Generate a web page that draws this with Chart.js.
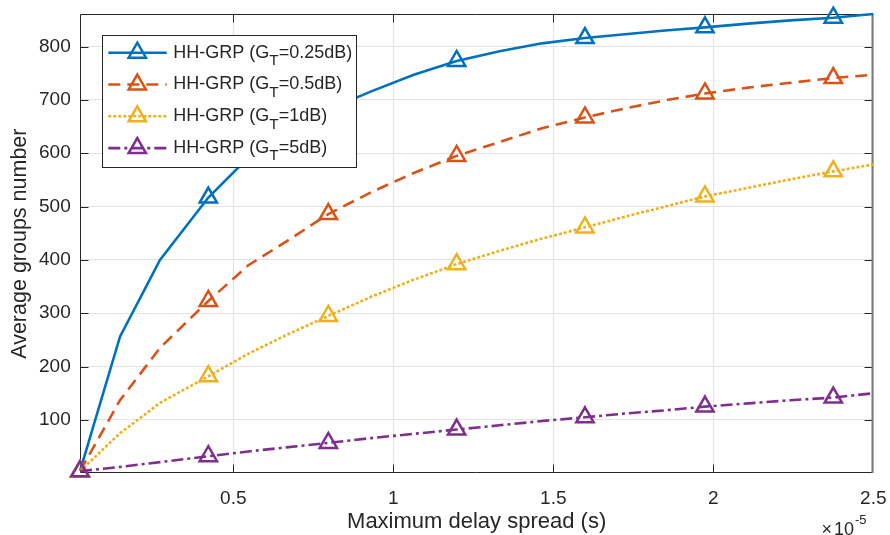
<!DOCTYPE html>
<html>
<head>
<meta charset="utf-8">
<script src="https://cdn.jsdelivr.net/npm/chart.js@4.4.1/dist/chart.umd.min.js"></script>
<style>
html, body { margin: 0; padding: 0; background: #fff; }
#wrap { width: 890px; height: 535px; }
</style>
</head>
<body>
<div id="wrap"><canvas id="chart" width="890" height="535"></canvas></div>
<script>
// --- Daten (x-Werte in Einheiten von 1e-5 s) ---
const delaySpread = [0.021, 0.146, 0.271, 0.422, 0.547, 0.672, 0.797, 0.931, 1.064, 1.198,
                     1.332, 1.465, 1.599, 1.724, 1.849, 1.974, 2.108, 2.241, 2.375, 2.5];
const groupsG025 = [4, 256, 400, 517, 592, 642, 682, 716, 747, 773, 791, 806, 816, 823, 830, 836, 843, 849, 854, 861];
const groupsG05  = [4, 137, 235, 323, 390, 437, 486, 527, 563, 595, 621, 647, 667, 684, 699, 712, 723, 732, 741, 747];
const groupsG1   = [4, 75, 132, 182, 224, 261, 295, 331, 363, 392, 417, 440, 461, 481, 500, 519, 535, 551, 566, 579];
const groupsG5   = [4, 12, 21, 32, 41, 49, 57, 66, 74, 82, 90, 98, 105, 112, 118, 125, 131, 137, 142, 150];
const gainLabels = ['0.25dB', '0.5dB', '1dB', '5dB'];
const xTicks = [0.5, 1, 1.5, 2, 2.5];
const yTicks = [100, 200, 300, 400, 500, 600, 700, 800];

const FONT = "'Liberation Sans', Arial, Helvetica, sans-serif";
const TEXT = '#262626';

// Stil pro Linie (MATLAB Standardfarben)
const styles = [
    { color: '#0072BD', dash: [] },
    { color: '#D95319', dash: [12, 7] },
    { color: '#EDB120', dash: [3, 2] },
    { color: '#7E2F8E', dash: [12, 4, 3, 4] }
];
const seriesData = [groupsG025, groupsG05, groupsG1, groupsG5];

function makeDataset(values, i) {
    const s = styles[i];
    return {
        label: 'HH-GRP (GT=' + gainLabels[i] + ')',
        data: delaySpread.map((x, k) => ({ x: x, y: values[k] })),
        borderColor: s.color,
        borderWidth: 2.6,
        borderDash: s.dash,
        pointStyle: 'triangle',
        pointRadius: ctx => (ctx.dataIndex % 3 === 0 ? 10 : 0),
        pointBorderWidth: 2.5,
        pointBorderColor: s.color,
        pointBackgroundColor: 'rgba(0,0,0,0)',
        tension: 0,
        fill: false,
        clip: false,
        order: 3 - i
    };
}

// Achsenrahmen + Ticks nach innen (wie MATLAB)
const axesBox = {
    id: 'axesBox',
    beforeDatasetsDraw(chart) {
        const { ctx, chartArea: a, scales: { x, y } } = chart;
        const L = Math.round(a.left) + 0.5, R = Math.round(a.right) - 0.5;
        const T = Math.round(a.top) + 0.5, B = Math.round(a.bottom) - 0.5;
        ctx.save();
        ctx.strokeStyle = TEXT;
        ctx.lineWidth = 1;
        ctx.beginPath();
        ctx.moveTo(R, T); ctx.lineTo(L, T); ctx.lineTo(L, B); ctx.lineTo(R, B);
        xTicks.forEach(v => {
            const px = Math.round(x.getPixelForValue(v)) + 0.5;
            if (v >= 2.5) return;
            ctx.moveTo(px, B); ctx.lineTo(px, B - 8);
            ctx.moveTo(px, T); ctx.lineTo(px, T + 8);
        });
        yTicks.forEach(v => {
            const py = Math.round(y.getPixelForValue(v)) + 0.5;
            ctx.moveTo(L, py); ctx.lineTo(L + 8, py);
            ctx.moveTo(R, py); ctx.lineTo(R - 8, py);
        });
        ctx.stroke();
        ctx.strokeStyle = '#7a7a7a';
        ctx.lineWidth = 2;
        ctx.beginPath();
        ctx.moveTo(R, T - 0.5); ctx.lineTo(R, B + 0.5);
        ctx.stroke();
        ctx.restore();
    }
};

// Legende mit tiefgestelltem T + Exponent der x-Achse
function drawGainText(ctx, x, y, gain, size) {
    ctx.font = size + 'px ' + FONT;
    ctx.fillText('HH-GRP (G', x, y);
    x += ctx.measureText('HH-GRP (G').width;
    ctx.font = (size * 0.85) + 'px ' + FONT;
    ctx.fillText('T', x, y + 8);
    x += ctx.measureText('T').width;
    ctx.font = size + 'px ' + FONT;
    ctx.fillText('=' + gain + ')', x, y);
}

const legendBox = {
    id: 'legendBox',
    afterDraw(chart) {
        const { ctx } = chart;
        ctx.save();
        const bx = 102.5, by = 35.5, bw = 254, bh = 132;
        ctx.fillStyle = '#fff';
        ctx.fillRect(bx, by, bw, bh);
        ctx.strokeStyle = TEXT;
        ctx.lineWidth = 1;
        ctx.strokeRect(bx, by, bw, bh);
        styles.forEach((s, i) => {
            const cy = 52.7 + i * 31.8;
            ctx.strokeStyle = s.color;
            ctx.lineWidth = 2.6;
            ctx.setLineDash(s.dash);
            ctx.beginPath();
            ctx.moveTo(108.3, cy); ctx.lineTo(166.7, cy);
            ctx.stroke();
            ctx.setLineDash([]);
            ctx.lineWidth = 2.5;
            ctx.fillStyle = 'rgba(0,0,0,0)';
            Chart.helpers.drawPoint(ctx, { pointStyle: 'triangle', radius: 10, rotation: 0, borderWidth: 2.5 }, 137.3, cy);
            ctx.fillStyle = TEXT;
            ctx.textBaseline = 'middle';
            ctx.textAlign = 'left';
            drawGainText(ctx, 173.3, cy, gainLabels[i], 18);
        });

        // x10^-5
        ctx.fillStyle = TEXT;
        ctx.textBaseline = 'alphabetic';
        let ex = 821.5;
        ctx.font = '18px ' + FONT;
        ctx.fillText('\u00d7', ex, 535);
        ex += ctx.measureText('\u00d7').width + 2;
        ctx.fillText('10', ex, 535);
        ex += ctx.measureText('10').width + 1;
        ctx.font = '13px ' + FONT;
        ctx.fillText('-5', ex, 523.5);
        ctx.restore();
    }
};

new Chart(document.getElementById('chart'), {
    type: 'line',
    data: { datasets: seriesData.map(makeDataset) },
    options: {
        responsive: false,
        animation: false,
        events: [],
        layout: { padding: { left: 0, right: 16.7, top: 14, bottom: 0 } },
        plugins: { legend: { display: false }, tooltip: { enabled: false } },
        scales: {
            x: {
                type: 'linear',
                min: 0.021,
                max: 2.5,
                afterBuildTicks: s => { s.ticks = xTicks.map(v => ({ value: v })); },
                afterFit: s => { s.height = 61.7; s.paddingLeft = 0; s.paddingRight = 0; },
                border: { display: false },
                grid: { color: '#e3e3e3', lineWidth: 1, drawTicks: false },
                ticks: {
                    autoSkip: false, maxRotation: 0, padding: 13.8,
                    color: TEXT, font: { family: FONT, size: 19 },
                    callback: v => String(v)
                },
                title: {
                    display: true, text: 'Maximum delay spread (s)', color: TEXT,
                    font: { family: FONT, size: 22 }, padding: { top: 0, bottom: 0 }
                }
            },
            y: {
                type: 'linear',
                min: 0,
                max: 861,
                afterBuildTicks: s => { s.ticks = yTicks.map(v => ({ value: v })); },
                afterFit: s => { s.width = 80; s.paddingTop = 0; s.paddingBottom = 0; },
                border: { display: false },
                grid: { color: '#e3e3e3', lineWidth: 1, drawTicks: false },
                ticks: {
                    autoSkip: false, padding: 9.3,
                    color: TEXT, font: { family: FONT, size: 19 }
                },
                title: {
                    display: true, text: 'Average groups number', color: TEXT,
                    font: { family: FONT, size: 21.5 }, padding: { top: 7, bottom: 0 }
                }
            }
        }
    },
    plugins: [axesBox, legendBox]
});
</script>
</body>
</html>
